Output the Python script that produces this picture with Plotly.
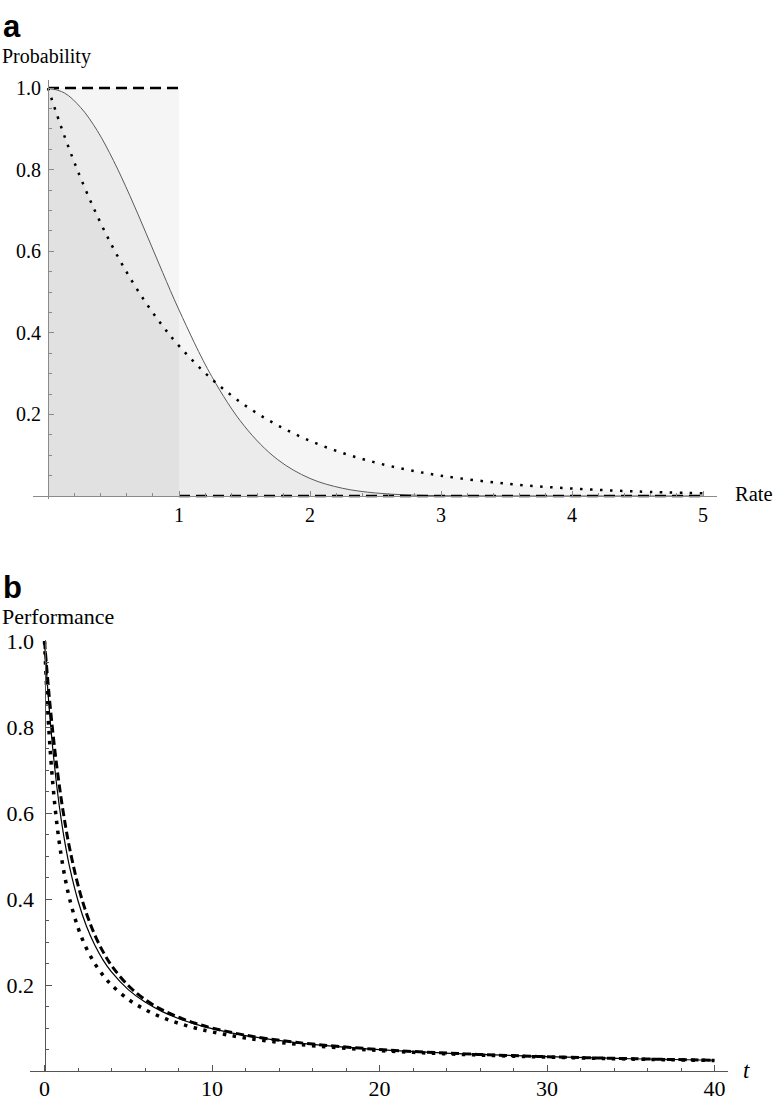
import plotly.graph_objects as go

# ---------------- Panel a data ----------------
rate_step = [0, 1, 1, 5]
prob_step = [1, 1, 0, 0]

rate = [0, 0.125, 0.25, 0.375, 0.5, 0.625, 0.75, 0.875, 1, 1.25, 1.5, 1.75, 2, 2.25, 2.5, 2.75,
        3, 3.5, 4, 4.5, 5]
prob_solid = [1, 0.988, 0.952, 0.896, 0.822, 0.736, 0.643, 0.548, 0.456, 0.293, 0.171, 0.090,
              0.043, 0.0188, 0.0074, 0.0026, 0.0009, 0.0001, 0, 0, 0]
prob_dotted = [1, 0.8825, 0.7788, 0.6873, 0.6065, 0.5353, 0.4724, 0.4169, 0.3679, 0.2865,
               0.2231, 0.1738, 0.1353, 0.1054, 0.0821, 0.0639, 0.0498, 0.0302, 0.0183, 0.0111,
               0.0067]

a_xticks = [1, 2, 3, 4, 5]
a_yticks = [0.2, 0.4, 0.6, 0.8, 1.0]
a_yticklabels = ["0.2", "0.4", "0.6", "0.8", "1.0"]

# ---------------- Panel b data ----------------
t = [0, 0.25, 0.5, 0.75, 1, 1.25, 1.5, 2, 2.5, 3, 3.5, 4, 5, 6, 7, 8, 9, 10, 12, 15, 20, 25, 30, 35, 40]
perf_dashed = [1, 0.8848, 0.7869, 0.7035, 0.6321, 0.5708, 0.5179, 0.4323, 0.3672, 0.3167, 0.2771,
               0.2454, 0.1987, 0.1663, 0.1427, 0.1250, 0.1111, 0.1000, 0.0833, 0.0667, 0.0500,
               0.0400, 0.0333, 0.0286, 0.0250]
perf_solid = [1, 0.859, 0.747, 0.657, 0.584, 0.524, 0.474, 0.396, 0.337, 0.293, 0.258,
              0.2305, 0.1893, 0.1602, 0.1387, 0.1221, 0.1091, 0.0985, 0.0824, 0.0662, 0.0498,
              0.0399, 0.0333, 0.0285, 0.0250]
perf_dotted = [1, 0.8, 0.6667, 0.5714, 0.5, 0.4444, 0.4, 0.3333, 0.2857, 0.25, 0.2222,
               0.2, 0.1667, 0.1429, 0.125, 0.1111, 0.1, 0.0909, 0.0769, 0.0625, 0.0476,
               0.0385, 0.0323, 0.0278, 0.0244]

b_xticks = [0, 10, 20, 30, 40]
b_yticks = [0.2, 0.4, 0.6, 0.8, 1.0]
b_yticklabels = ["0.2", "0.4", "0.6", "0.8", "1.0"]

FW, FH = 776, 1101
SERIF = "Liberation Serif, Times New Roman, serif"
SANS = "Liberation Sans, Arial, sans-serif"
FILL = "rgba(0,0,0,0.04)"


def px_x(p):
    return p / FW


def px_y(p):
    return 1 - p / FH


fig = go.Figure()

# ---- panel a fills ----
fig.add_trace(go.Scatter(x=rate_step[:2], y=prob_step[:2], mode="lines", fill="tozeroy",
                         fillcolor=FILL, line=dict(width=0), xaxis="x", yaxis="y",
                         hoverinfo="skip", showlegend=False))
fig.add_trace(go.Scatter(x=rate, y=prob_solid, mode="lines", fill="tozeroy", fillcolor=FILL,
                         line=dict(width=0, shape="spline"), xaxis="x", yaxis="y",
                         hoverinfo="skip", showlegend=False))
fig.add_trace(go.Scatter(x=rate, y=prob_dotted, mode="lines", fill="tozeroy", fillcolor=FILL,
                         line=dict(width=0, shape="spline"), xaxis="x", yaxis="y",
                         hoverinfo="skip", showlegend=False))
# ---- panel a lines ----
fig.add_trace(go.Scatter(x=rate, y=prob_solid, mode="lines",
                         line=dict(color="#5a5a5a", width=1, shape="spline"),
                         xaxis="x", yaxis="y", showlegend=False))
fig.add_trace(go.Scatter(x=rate, y=prob_dotted, mode="lines",
                         line=dict(color="black", width=2.5, dash="2.5px,7.5px", shape="spline"),
                         xaxis="x", yaxis="y", showlegend=False))
fig.add_trace(go.Scatter(x=rate_step[:2] + [None] + rate_step[2:],
                         y=prob_step[:2] + [None] + prob_step[2:], mode="lines",
                         line=dict(color="black", width=2.5, dash="11px,6px"),
                         xaxis="x", yaxis="y", showlegend=False))

# ---- panel b lines ----
fig.add_trace(go.Scatter(x=t, y=perf_solid, mode="lines",
                         line=dict(color="black", width=1.2, shape="spline"),
                         xaxis="x2", yaxis="y2", showlegend=False))
fig.add_trace(go.Scatter(x=t, y=perf_dotted, mode="lines",
                         line=dict(color="black", width=3.5, dash="3.5px,6.5px", shape="spline"),
                         xaxis="x2", yaxis="y2", showlegend=False))
fig.add_trace(go.Scatter(x=t, y=perf_dashed, mode="lines",
                         line=dict(color="black", width=3, dash="8px,4px", shape="spline"),
                         xaxis="x2", yaxis="y2", showlegend=False))

# ---- axes geometry (window pixels) ----
a_x0, a_x1 = 33, 717
a_zero_x, a_unit_x = 48, 131
a_top, a_zero_y, a_bottom = 80, 496, 499
a_unit_y = 408

b_x0, b_x1 = 30, 728
b_zero_x, b_unit_x = 44.5, 16.75
b_top, b_bottom = 640, 1071
b_unit_y = 430

AX_A = "#8a8a8a"
AX_B = "#555555"

fig.update_layout(
    width=FW, height=FH, autosize=False,
    margin=dict(l=0, r=0, t=0, b=0, pad=0),
    paper_bgcolor="white", plot_bgcolor="rgba(0,0,0,0)",
    font=dict(family=SERIF, color="black"),
    xaxis=dict(
        domain=[px_x(a_x0), px_x(a_x1)],
        range=[(a_x0 - a_zero_x) / a_unit_x, (a_x1 - a_zero_x) / a_unit_x],
        anchor="free", position=px_y(a_zero_y), automargin=False,
        showgrid=False, zeroline=False, showline=True, linecolor=AX_A, linewidth=1,
        tickvals=a_xticks, ticktext=[str(v) for v in a_xticks],
        ticks="inside", ticklen=5, tickcolor=AX_A, ticklabelstandoff=1,
        minor=dict(ticks="inside", dtick=0.2, tick0=0, ticklen=3, tickcolor=AX_A, showgrid=False),
        tickfont=dict(size=20, family=SERIF, color="black"),
    ),
    yaxis=dict(
        domain=[px_y(a_bottom), px_y(a_top)],
        range=[-(a_bottom - a_zero_y) / a_unit_y, (a_zero_y - a_top) / a_unit_y],
        anchor="free", position=px_x(a_zero_x), automargin=False,
        showgrid=False, zeroline=False, showline=True, linecolor=AX_A, linewidth=1,
        tickvals=a_yticks, ticktext=a_yticklabels,
        ticks="inside", ticklen=5, tickcolor=AX_A, ticklabelstandoff=3,
        minor=dict(ticks="inside", dtick=0.05, tick0=0, ticklen=3, tickcolor=AX_A, showgrid=False),
        tickfont=dict(size=20, family=SERIF, color="black"),
    ),
    xaxis2=dict(
        domain=[px_x(b_x0), px_x(b_x1)],
        range=[(b_x0 - b_zero_x) / b_unit_x, (b_x1 - b_zero_x) / b_unit_x],
        anchor="y2", automargin=False,
        showgrid=False, zeroline=False, showline=True, linecolor=AX_B, linewidth=1.2,
        tickvals=b_xticks, ticktext=[str(v) for v in b_xticks],
        ticks="inside", ticklen=6, tickcolor=AX_B, ticklabelstandoff=-3,
        minor=dict(ticks="inside", dtick=2, tick0=0, ticklen=3, tickcolor=AX_B, showgrid=False),
        tickfont=dict(size=22, family=SERIF, color="black"),
    ),
    yaxis2=dict(
        domain=[px_y(b_bottom), px_y(b_top)],
        range=[0, (b_bottom - b_top) / b_unit_y],
        anchor="free", position=px_x(b_zero_x), automargin=False,
        showgrid=False, zeroline=False, showline=True, linecolor=AX_B, linewidth=1.2,
        tickvals=b_yticks, ticktext=b_yticklabels,
        ticks="inside", ticklen=6, tickcolor=AX_B, ticklabelstandoff=6,
        minor=dict(ticks="inside", dtick=0.05, tick0=0, ticklen=3, tickcolor=AX_B, showgrid=False),
        tickfont=dict(size=22, family=SERIF, color="black"),
    ),
)


def label(text, x, y, size, family=SERIF, xanchor="left"):
    fig.add_annotation(text=text, x=px_x(x), y=px_y(y), xref="paper", yref="paper",
                       xanchor=xanchor, yanchor="middle", showarrow=False,
                       font=dict(size=size, family=family, color="black"))


label("<b>a</b>", 1, 26, 31, family=SANS)
label("Probability", 0, 57, 20)
label("Rate", 733, 494, 20.5)
label("<b>b</b>", 1, 587, 31, family=SANS)
label("Performance", 0, 617, 22)
label("<i>t</i>", 741, 1070, 23)

# remove the default 8px page margin so the figure fills the window exactly
fig.write_html("out.html",
               config={"displayModeBar": False},
               post_script="document.body.style.margin='0';document.body.style.overflow='hidden';")
